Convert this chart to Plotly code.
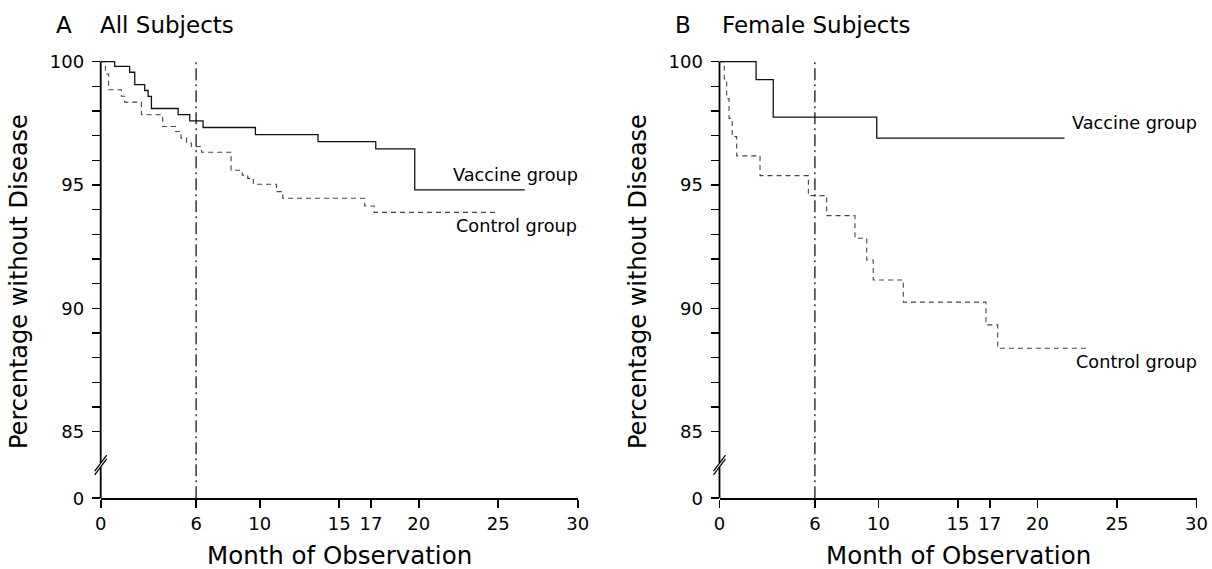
import plotly.graph_objects as go

W, H = 1212, 569
OFF = 0  # body margin removed via post_script below

# ---------------- data ----------------
a_vac_t = [0, 0.88, 1.82, 2.14, 2.77, 2.98, 3.19, 4.87, 5.6, 6.44, 9.73, 13.67, 17.3, 19.75, 26.67]
a_vac_v = [100, 99.81, 99.57, 99.07, 98.83, 98.59, 98.1, 97.85, 97.6, 97.33, 97.04, 96.76, 96.46, 94.8, 94.8]

a_ctl_t = [0, 0.3, 0.5, 1.3, 1.5, 2.56, 3.9, 4.7, 5.05, 5.4, 5.7, 6.35, 8.2, 8.9, 9.25, 9.6, 11.05, 11.45, 16.6, 17.2, 25.0]
a_ctl_v = [100, 99.5, 98.86, 98.6, 98.36, 97.85, 97.37, 97.17, 96.9, 96.7, 96.56, 96.33, 95.6, 95.4, 95.27, 95.03, 94.73, 94.46, 94.15, 93.89, 93.89]

b_vac_t = [0, 2.3, 3.38, 9.89, 21.7]
b_vac_v = [100, 99.27, 97.75, 96.9, 96.9]

b_ctl_t = [0, 0.3, 0.45, 0.6, 0.8, 1.08, 2.55, 5.59, 6.74, 8.52, 9.26, 9.67, 11.56, 16.76, 17.5, 23.1]
b_ctl_v = [100, 99.3, 98.5, 97.7, 96.96, 96.18, 95.38, 94.57, 93.76, 92.84, 91.96, 91.15, 90.25, 89.33, 88.38, 88.38]

x_ticks = [0, 6, 10, 15, 17, 20, 25, 30]
y_major = [85, 90, 95, 100]
y_minor = list(range(86, 100))
ZERO_POS = 82.3      # display position of the "0" tick below the axis break
BREAK_POS = 83.65    # display position of the axis break marks
Y_TOP = 100.3
vline_month = 6

FONT = "DejaVu Sans"

def px(x):
    return (x - OFF) / W

def py(y):
    return 1 - (y - OFF) / H

fig = go.Figure()

panels = [
    ("x", "y", a_vac_t, a_vac_v, a_ctl_t, a_ctl_v),
    ("x2", "y2", b_vac_t, b_vac_v, b_ctl_t, b_ctl_v),
]
for xa, ya, vt, vv, ct, cv in panels:
    fig.add_trace(go.Scatter(x=ct, y=cv, mode="lines", line_shape="hv",
                             line=dict(color="#444444", width=1.1, dash="5px,4px"),
                             xaxis=xa, yaxis=ya, hoverinfo="skip"))
    fig.add_trace(go.Scatter(x=vt, y=vv, mode="lines", line_shape="hv",
                             line=dict(color="#111111", width=1.3),
                             xaxis=xa, yaxis=ya, hoverinfo="skip"))

tickvals_y = [ZERO_POS] + y_major
ticktext_y = ["0"] + [str(v) for v in y_major]

ydom = [py(498.3), py(498.3 - (Y_TOP - ZERO_POS) * 24.67)]
xdomA = [px(100.7), px(577.7)]
xdomB = [px(719.5), px(1196.5)]

xcommon = dict(range=[0, 30], tickvals=x_ticks, ticktext=[str(v) for v in x_ticks],
               ticks="outside", ticklen=8, tickwidth=1.6, tickcolor="black",
               showline=True, linecolor="black", linewidth=1.8, showgrid=False,
               zeroline=False, automargin=False,
               tickfont=dict(family=FONT, size=18, color="black"))
ycommon = dict(range=[ZERO_POS, Y_TOP], tickvals=tickvals_y, ticktext=ticktext_y,
               ticks="outside", ticklen=8, tickwidth=1.6, tickcolor="black",
               minor=dict(tickvals=y_minor, ticks="outside", ticklen=8, tickwidth=1.6,
                          tickcolor="black", showgrid=False),
               showline=False, showgrid=False, zeroline=False, automargin=False,
               ticklabelstandoff=4,
               tickfont=dict(family=FONT, size=18, color="black"), domain=ydom)

fig.update_layout(
    width=W, height=H, margin=dict(l=0, r=0, t=0, b=0, autoexpand=False),
    paper_bgcolor="white", plot_bgcolor="white", showlegend=False,
    xaxis=dict(domain=xdomA, anchor="y", **xcommon),
    yaxis=dict(anchor="x", **ycommon),
    xaxis2=dict(domain=xdomB, anchor="y2", **xcommon),
    yaxis2=dict(anchor="x2", **ycommon),
)

shapes = []
for xa, ya in [("x", "y"), ("x2", "y2")]:
    # y axis line in two segments with a break
    shapes.append(dict(type="line", xref=xa + " domain", yref=ya, x0=0, x1=0,
                       y0=ZERO_POS, y1=BREAK_POS - 0.08, line=dict(color="black", width=1.8)))
    shapes.append(dict(type="line", xref=xa + " domain", yref=ya, x0=0, x1=0,
                       y0=BREAK_POS + 0.08, y1=100, line=dict(color="black", width=1.8)))
    for off in (-0.08, 0.08):
        shapes.append(dict(type="line", xref=xa + " domain", yref=ya,
                           xsizemode="pixel", xanchor=0, x0=-6, x1=6,
                           ysizemode="pixel", yanchor=BREAK_POS + off, y0=-8, y1=8,
                           line=dict(color="black", width=1.3)))
    # dash-dot reference line at month 6
    shapes.append(dict(type="line", xref=xa, yref=ya, x0=vline_month, x1=vline_month,
                       y0=ZERO_POS, y1=100, line=dict(color="black", width=1.2, dash="12px,4px,2px,4px")))
fig.update_layout(shapes=shapes)

ann = []
def text(x, y, s, size, xanchor="left", angle=0):
    ann.append(dict(xref="paper", yref="paper", x=px(x), y=py(y), text=s, showarrow=False,
                    xanchor=xanchor, yanchor="middle", textangle=angle, borderpad=0,
                    font=dict(family=FONT, size=size, color="black")))

text(55, 25, "A", 23)
text(99, 25, "All Subjects", 23)
text(674, 25, "B", 23)
text(721, 25, "Female Subjects", 23)
text(19, 282, "Percentage without Disease", 24, xanchor="center", angle=-90)
text(638, 282, "Percentage without Disease", 24, xanchor="center", angle=-90)
text(339, 555, "Month of Observation", 24.5, xanchor="center")
text(958, 555, "Month of Observation", 24.5, xanchor="center")
text(452, 175, "Vaccine group", 17.7)
text(455, 226, "Control group", 17.7)
text(1071, 123, "Vaccine group", 17.7)
text(1075, 362, "Control group", 17.7)
fig.update_layout(annotations=ann)

fig.write_html(
    "out.html",
    config={"displayModeBar": False, "staticPlot": True},
    post_script="document.body.style.margin='0';document.body.style.overflow='hidden';",
)
